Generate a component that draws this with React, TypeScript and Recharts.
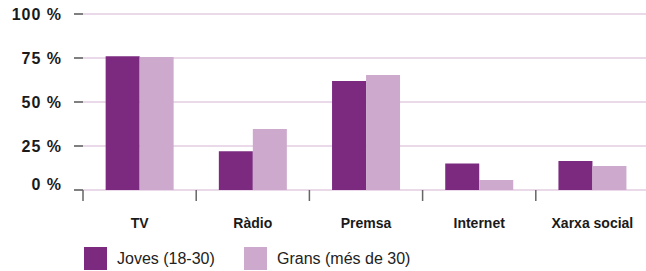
import React from "react";
import {
  BarChart,
  Bar,
  XAxis,
  YAxis,
  CartesianGrid,
  Legend,
} from "recharts";

const categories = ["TV", "Ràdio", "Premsa", "Internet", "Xarxa social"];
const joves = [76, 22, 62, 15, 16.5];
const grans = [75.5, 34.7, 65.3, 5.7, 13.6];
const yTicks = [0, 25, 50, 75, 100];

const seriesNames = { joves: "Joves (18-30)", grans: "Grans (més de 30)" };
const colors = { joves: "#7b2a80", grans: "#cdaacd" };

const data = categories.map((cat, i) => ({
  cat,
  joves: joves[i],
  grans: grans[i],
}));

const CHART_W = 660;
const CHART_H = 271;
const MARGIN = { top: 14, right: 11, bottom: 0, left: 0 };
const Y_AXIS_W = 83;
const BAND = (CHART_W - MARGIN.left - MARGIN.right - Y_AXIS_W) / categories.length;

const FONT = "'Liberation Sans', Arial, Helvetica, sans-serif";

const XTick = (props: any) => {
  const { x, y, payload } = props;
  const bx = x - BAND / 2;
  return (
    <g>
      <line x1={bx} y1={y} x2={bx} y2={y + 11} stroke="#666" strokeWidth={1.5} />
      <text
        x={x}
        y={y + 38}
        textAnchor="middle"
        fontFamily={FONT}
        fontSize={14}
        fontWeight="bold"
        fill="#1a1a1a"
      >
        {payload.value}
      </text>
    </g>
  );
};

const YTick = (props: any) => {
  const { x, y, payload } = props;
  const shift = payload.value === 0 ? -6 : 0;
  return (
    <text
      x={x}
      y={y + shift}
      dy="0.36em"
      textAnchor="end"
      fontFamily={FONT}
      fontSize={16}
      fontWeight="bold"
      letterSpacing={1}
      fill="#1a1a1a"
    >
      {`${payload.value} %`}
    </text>
  );
};

const LegendContent = () => (
  <div
    style={{
      display: "flex",
      boxSizing: "border-box",
      height: 41,
      paddingTop: 17,
      paddingLeft: 84,
      fontFamily: FONT,
      fontSize: 16,
      color: "#222",
      whiteSpace: "nowrap",
    }}
  >
    {(["joves", "grans"] as const).map((k, i) => (
      <div
        key={k}
        style={{
          display: "flex",
          alignItems: "center",
          width: i === 0 ? 160 : "auto",
          flexShrink: 0,
          height: 23,
        }}
      >
        <span
          style={{
            display: "inline-block",
            width: 23,
            height: 23,
            background: colors[k],
            marginRight: 10,
          }}
        />
        <span>{seriesNames[k]}</span>
      </div>
    ))}
  </div>
);

const App: React.FC = () => {
  return (
    <div
      style={{
        position: "absolute",
        left: 0,
        top: 0,
        width: 646,
        height: CHART_H,
        overflow: "hidden",
        background: "#fff",
      }}
    >
      <BarChart
        width={CHART_W}
        height={CHART_H}
        data={data}
        margin={MARGIN}
        barCategoryGap="20%"
        barGap={0}
      >
        <CartesianGrid
          horizontal={true}
          vertical={false}
          stroke="#e2cde2"
          strokeWidth={1.5}
        />
        <XAxis
          dataKey="cat"
          axisLine={false}
          tickLine={false}
          tickSize={0}
          tickMargin={0}
          height={40}
          interval={0}
          tick={<XTick />}
        />
        <YAxis
          width={Y_AXIS_W}
          domain={[0, 100]}
          ticks={yTicks}
          axisLine={false}
          tickSize={9}
          tickMargin={12}
          tickLine={{ stroke: "#555", strokeWidth: 1.5 }}
          tick={<YTick />}
        />
        <Legend
          verticalAlign="bottom"
          align="left"
          content={<LegendContent />}
        />
        <Bar
          dataKey="joves"
          name={seriesNames.joves}
          fill={colors.joves}
          isAnimationActive={false}
        />
        <Bar
          dataKey="grans"
          name={seriesNames.grans}
          fill={colors.grans}
          isAnimationActive={false}
        />
      </BarChart>
    </div>
  );
};

export default App;
